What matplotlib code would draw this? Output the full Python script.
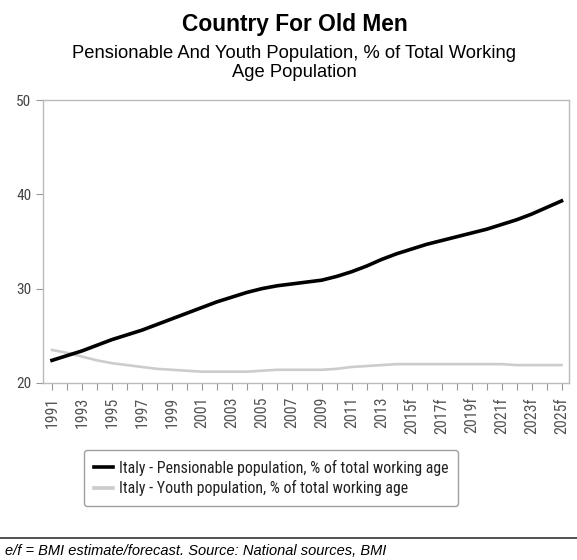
import matplotlib.pyplot as plt
from matplotlib import font_manager

# ---------------------------------
# DATA
# ---------------------------------

years = list(range(1991, 2026))

pensionable = [
    22.4, 22.9, 23.4, 24.0, 24.6, 25.1, 25.6, 26.2, 26.8, 27.4,
    28.0, 28.6, 29.1, 29.6, 30.0, 30.3, 30.5, 30.7, 30.9, 31.3,
    31.8, 32.4, 33.1, 33.7, 34.2, 34.7, 35.1, 35.5, 35.9, 36.3,
    36.8, 37.3, 37.9, 38.6, 39.3
]

youth = [
    23.5, 23.2, 22.8, 22.4, 22.1, 21.9, 21.7, 21.5, 21.4, 21.3,
    21.2, 21.2, 21.2, 21.2, 21.3, 21.4, 21.4, 21.4, 21.4, 21.5,
    21.7, 21.8, 21.9, 22.0, 22.0, 22.0, 22.0, 22.0, 22.0, 22.0,
    22.0, 21.9, 21.9, 21.9, 21.9
]

tick_years = years[::2]
tick_labels = [
    str(y) if y < 2015 else f"{y}f"
    for y in tick_years
]

y_ticks = [20, 30, 40, 50]

series_names = [
    "Italy - Pensionable population, % of total working age",
    "Italy - Youth population, % of total working age",
]

title = "Country For Old Men"
subtitle = "Pensionable And Youth Population, % of Total Working\nAge Population"
footer = "e/f = BMI estimate/forecast. Source: National sources, BMI"

# ---------------------------------
# FONTS
# ---------------------------------

installed = {f.name for f in font_manager.fontManager.ttflist}
narrow = "DejaVu Sans"
for name in ["Liberation Sans Narrow", "DejaVu Sans Condensed",
             "Roboto Condensed", "Open Sans Condensed"]:
    if name in installed:
        narrow = name
        break

narrow_font = {"family": narrow, "stretch": "condensed"}

# ---------------------------------
# FIGURE
# ---------------------------------

fig = plt.figure(figsize=(5.77, 5.6), dpi=100)
ax = fig.add_axes([43 / 577, 1 - 383 / 560, 526 / 577, 283 / 560])

ax.plot(years, youth, color="#cccccc", linewidth=1.9, label=series_names[1])
ax.plot(years, pensionable, color="black", linewidth=2.6, label=series_names[0])

ax.set_xlim(1990.4, 2025.5)
ax.set_ylim(20, 50)

ax.set_yticks(y_ticks)
ax.set_yticklabels([str(v) for v in y_ticks], fontsize=11,
                   color="#444444", **narrow_font)

ax.set_xticks(years, minor=True)
ax.set_xticks(tick_years)
ax.set_xticklabels(tick_labels, rotation=90, fontsize=11.5,
                   color="#555555", **narrow_font)

ax.tick_params(axis="both", which="both", color="#999999", length=5, width=0.8)
ax.tick_params(axis="x", pad=5)

for spine in ax.spines.values():
    spine.set_color("#bbbbbb")
    spine.set_linewidth(1.0)

# ---------------------------------
# TITLES
# ---------------------------------

fig.text(295 / 577, 1 - 24 / 560, title, ha="center", va="center",
         fontfamily="Liberation Sans", fontweight="bold", fontsize=16.4)
fig.text(294 / 577, 1 - 63 / 560, subtitle, ha="center", va="center",
         fontfamily="Liberation Sans", fontsize=13.2, linespacing=1.2)

# ---------------------------------
# LEGEND
# ---------------------------------

handles, labels = ax.get_legend_handles_labels()
leg = fig.legend(
    handles[::-1], labels[::-1],
    loc="center",
    bbox_to_anchor=(271 / 577, 1 - 478 / 560),
    prop={"size": 11.4, **narrow_font},
    frameon=True,
    fancybox=True,
    handlelength=1.2,
    handletextpad=0.4,
    labelspacing=0.3,
    borderpad=0.6,
)
leg.get_frame().set_edgecolor("#888888")
leg.get_frame().set_linewidth(1.0)
for line in leg.get_lines():
    line.set_linewidth(2.6)
for text in leg.get_texts():
    text.set_color("#222222")

# ---------------------------------
# FOOTER
# ---------------------------------

fig.add_artist(plt.Line2D([0, 1], [1 - 538 / 560, 1 - 538 / 560],
                          color="#333333", linewidth=1.2,
                          transform=fig.transFigure))
fig.text(0.008, 1 - 551 / 560, footer, ha="left", va="center",
         fontfamily="Liberation Sans", fontstyle="italic", fontsize=10.5)

fig.savefig("out.png", dpi=100)
